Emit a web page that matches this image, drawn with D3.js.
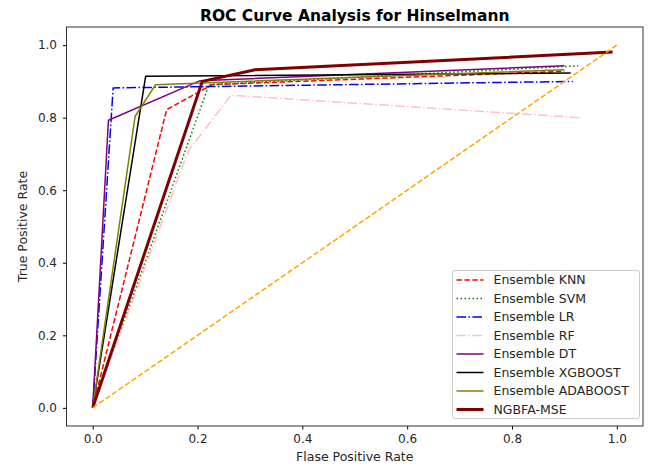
<!DOCTYPE html>
<html>
<head>
<meta charset="utf-8">
<script src="https://cdn.jsdelivr.net/npm/d3@7"></script>
<style>
  body { margin: 0; background: #fff; }
  text { font-family: "DejaVu Sans", sans-serif; fill: #262626; }
</style>
</head>
<body>
<div id="chart"></div>
<script>
// dados (FPR, TPR)
const modelos = ["Ensemble KNN", "Ensemble SVM", "Ensemble LR", "Ensemble RF",
  "Ensemble DT", "Ensemble XGBOOST", "Ensemble ADABOOST", "NGBFA-MSE"];
const fprKNN = [0, 0.141, 0.228, 0.90];
const tprKNN = [0, 0.822, 0.891, 0.928];
const fprSVM = [0, 0.222, 0.926];
const tprSVM = [0, 0.891, 0.943];
const fprLR = [0, 0.039, 0.916];
const tprLR = [0, 0.882, 0.900];
const fprRF = [0, 0.183, 0.264, 0.93];
const tprRF = [0, 0.71, 0.862, 0.80];
const fprDT = [0, 0.030, 0.205, 0.90];
const tprDT = [0, 0.793, 0.902, 0.943];
const fprXGB = [0, 0.101, 0.912];
const tprXGB = [0, 0.914, 0.923];
const fprADA = [0, 0.081, 0.120, 0.90];
const tprADA = [0, 0.804, 0.891, 0.932];
const fprNGB = [0, 0.209, 0.31, 0.992];
const tprNGB = [0, 0.900, 0.932, 0.981];
const diagonal = [0, 1];
const ticks = [0, 0.2, 0.4, 0.6, 0.8, 1.0];

const series = [
  { nome: modelos[0], x: fprKNN, y: tprKNN, cor: "red", w: 1.5, dash: "5.5,2.4" },
  { nome: modelos[1], x: fprSVM, y: tprSVM, cor: "green", w: 1.5, dash: "1.5,2.5" },
  { nome: modelos[2], x: fprLR, y: tprLR, cor: "blue", w: 1.5, dash: "9.6,2.4,1.5,2.4" },
  { nome: modelos[3], x: fprRF, y: tprRF, cor: "pink", w: 1.5, dash: "9.6,2.4,1.5,2.4" },
  { nome: modelos[4], x: fprDT, y: tprDT, cor: "purple", w: 1.5, dash: null },
  { nome: modelos[5], x: fprXGB, y: tprXGB, cor: "black", w: 1.5, dash: null },
  { nome: modelos[6], x: fprADA, y: tprADA, cor: "olive", w: 1.5, dash: null },
  { nome: modelos[7], x: fprNGB, y: tprNGB, cor: "maroon", w: 3, dash: null }
];

const width = 648, height = 466;
const margem = { left: 66.5, right: 5, top: 27, bottom: 40 };
const fonte = 12.5;

const svg = d3.select("#chart").append("svg")
  .attr("width", width).attr("height", height);

const x = d3.scaleLinear().domain([-0.05, 1.05]).range([margem.left, width - margem.right]);
const y = d3.scaleLinear().domain([-0.05, 1.05]).range([height - margem.bottom, margem.top]);

// eixos
svg.append("g")
  .attr("transform", `translate(0,${height - margem.bottom})`)
  .call(d3.axisBottom(x).tickValues(ticks).tickFormat(d3.format(".1f")).tickSize(3.5).tickPadding(5))
  .call(g => g.select(".domain").remove())
  .call(g => g.selectAll("text").attr("font-size", 12).attr("font-family", "DejaVu Sans"));

svg.append("g")
  .attr("transform", `translate(${margem.left},0)`)
  .call(d3.axisLeft(y).tickValues(ticks).tickFormat(d3.format(".1f")).tickSize(3.5).tickPadding(6))
  .call(g => g.select(".domain").remove())
  .call(g => g.selectAll("text").attr("font-size", 12).attr("font-family", "DejaVu Sans"));

// linhas
const plot = svg.append("g");
const linha = d3.line().x(d => x(d[0])).y(d => y(d[1]));

series.forEach(s => {
  plot.append("path")
    .datum(s.x.map((v, i) => [v, s.y[i]]))
    .attr("fill", "none")
    .attr("stroke", s.cor)
    .attr("stroke-width", s.w)
    .attr("stroke-dasharray", s.dash)
    .attr("stroke-linejoin", "round")
    .attr("d", linha);
});

// diagonal
plot.append("path")
  .datum(diagonal.map(v => [v, v]))
  .attr("fill", "none")
  .attr("stroke", "orange")
  .attr("stroke-width", 1.5)
  .attr("stroke-dasharray", "5.5,2.4")
  .attr("d", linha);

// moldura
svg.append("rect")
  .attr("x", margem.left).attr("y", margem.top)
  .attr("width", width - margem.right - margem.left)
  .attr("height", height - margem.bottom - margem.top)
  .attr("fill", "none").attr("stroke", "#333").attr("stroke-width", 1);

// titulos
svg.append("text")
  .attr("x", (margem.left + width - margem.right) / 2).attr("y", 21)
  .attr("text-anchor", "middle").attr("font-size", 15.5).attr("font-weight", "bold")
  .style("fill", "#000")
  .text("ROC Curve Analysis for Hinselmann");

svg.append("text")
  .attr("x", (margem.left + width - margem.right) / 2).attr("y", 461)
  .attr("text-anchor", "middle").attr("font-size", fonte)
  .text("Flase Positive Rate");

svg.append("text")
  .attr("transform", `translate(27,${(margem.top + height - margem.bottom) / 2}) rotate(-90)`)
  .attr("text-anchor", "middle").attr("font-size", fonte)
  .text("True Positive Rate");

// legenda
const leg = svg.append("g").attr("transform", "translate(452.5,270.5)");
leg.append("rect")
  .attr("width", 187).attr("height", 148).attr("rx", 2.5)
  .attr("fill", "#fff").attr("fill-opacity", 0.8)
  .attr("stroke", "#ccc").attr("stroke-width", 1);

series.forEach((s, i) => {
  const yy = 9.5 + i * 18.5;
  leg.append("line")
    .attr("x1", 4).attr("x2", 31).attr("y1", yy).attr("y2", yy)
    .attr("stroke", s.cor).attr("stroke-width", s.w)
    .attr("stroke-dasharray", s.dash);
  leg.append("text")
    .attr("x", 41).attr("y", yy).attr("dy", "0.35em")
    .attr("font-size", fonte)
    .text(s.nome);
});
</script>
</body>
</html>
